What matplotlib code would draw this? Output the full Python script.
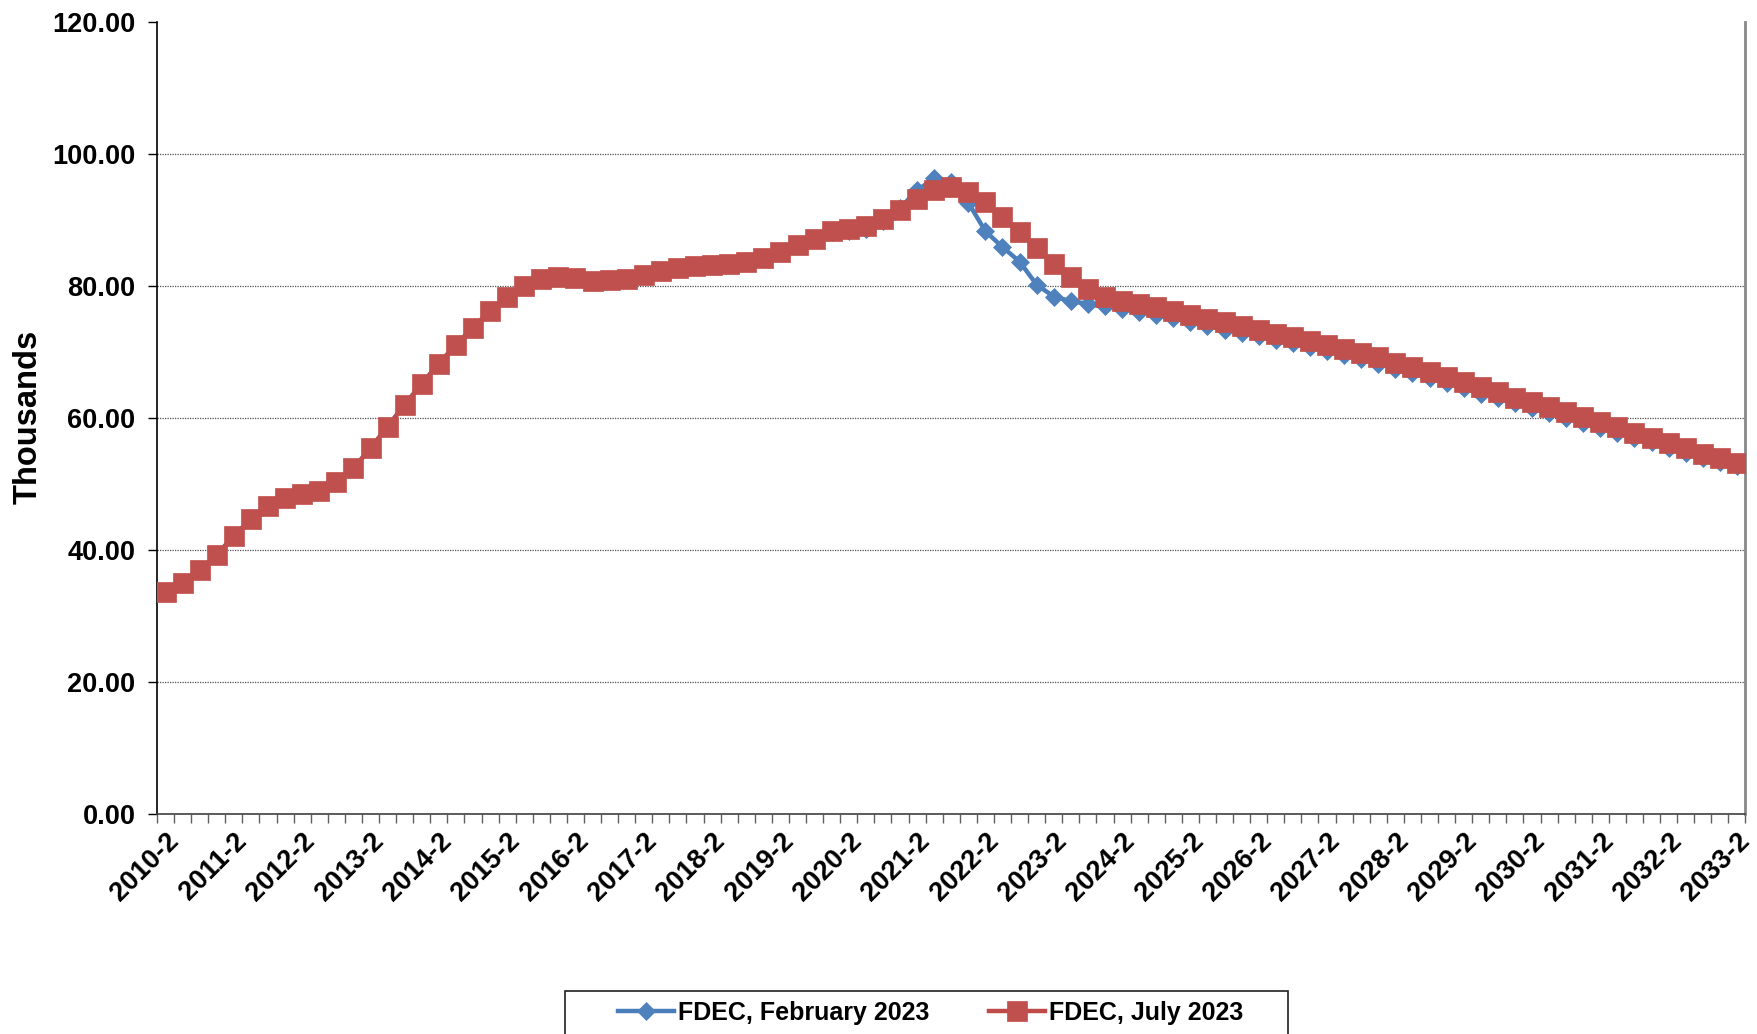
import numpy as np
import matplotlib
matplotlib.use("Agg")
import matplotlib.pyplot as plt
from matplotlib.patches import Rectangle

plt.rcParams['font.family'] = ['Liberation Sans', 'DejaVu Sans']
plt.rcParams['font.weight'] = 'bold'

# ---- data ----
quarters = []
for y in range(2010, 2034):
    for q in range(1, 5):
        if (y == 2010 and q < 2) or (y == 2033 and q > 2):
            continue
        quarters.append(f"{y}-{q}")

fdec_jul_2023 = [
    33.6, 35.05, 36.9, 39.3, 42.1, 44.7, 46.7, 47.9, 48.5, 49.0,
    50.3, 52.4, 55.4, 58.7, 62.0, 65.2, 68.2, 71.1, 73.7, 76.2,
    78.3, 80.0, 81.0, 81.4, 81.2, 80.8, 80.9, 81.0, 81.6, 82.2,
    82.7, 83.0, 83.2, 83.3, 83.7, 84.3, 85.2, 86.15, 87.15, 88.3,
    88.7, 89.1, 90.1, 91.5, 93.2, 94.6, 94.95, 94.3, 92.7, 90.5,
    88.2, 85.8, 83.4, 81.3, 79.55, 78.4, 77.7, 77.3, 76.8, 76.25,
    75.6, 75.0, 74.5, 73.9, 73.3, 72.8, 72.2, 71.7, 71.1, 70.5,
    69.8, 69.2, 68.4, 67.7, 66.9, 66.2, 65.45, 64.65, 63.9, 63.1,
    62.4, 61.6, 60.9, 60.2, 59.4, 58.6, 57.8, 57.0, 56.2, 55.4,
    54.6, 53.9, 53.2,
]

fdec_feb_2023 = [
    33.6, 35.05, 36.9, 39.3, 42.1, 44.7, 46.7, 47.9, 48.5, 49.0,
    50.3, 52.4, 55.4, 58.7, 62.0, 65.2, 68.2, 71.1, 73.7, 76.2,
    78.3, 80.0, 81.0, 81.4, 81.2, 80.8, 80.9, 81.0, 81.6, 82.2,
    82.7, 83.0, 83.2, 83.3, 83.7, 84.3, 85.2, 86.15, 87.15, 88.2,
    88.4, 88.7, 89.8, 91.8, 94.5, 96.3, 95.8, 92.6, 88.3, 85.9,
    83.7, 80.2, 78.4, 77.7, 77.3, 77.0, 76.5, 76.1, 75.6, 75.1,
    74.5, 73.9, 73.4, 72.9, 72.4, 71.8, 71.3, 70.8, 70.2, 69.5,
    68.9, 68.2, 67.5, 66.8, 66.1, 65.3, 64.55, 63.7, 63.0, 62.2,
    61.5, 60.7, 60.0, 59.3, 58.5, 57.8, 57.0, 56.3, 55.5, 54.7,
    54.0, 53.3, 52.7,
]

series_names = ["FDEC, February 2023", "FDEC, July 2023"]
y_ticks = [0, 20, 40, 60, 80, 100, 120]
y_label = "Thousands"

# ---- figure ----
W, H = 1758, 1034
fig = plt.figure(figsize=(W / 100, H / 100), dpi=100)
ax = fig.add_axes([157 / W, 1 - 814 / H, (1745.5 - 157) / W, (814 - 22) / H])

x = np.arange(len(quarters))

ax.plot(x, fdec_feb_2023, color='#4A7EBB', lw=3.2, marker='D', ms=9.2,
        mfc='#4F81BD', mec='#4F81BD', mew=0.5, label=series_names[0], zorder=3)
ax.plot(x, fdec_jul_2023, color='#BE4B48', lw=3.2, marker='s', ms=14,
        mfc='#C0504D', mec='#C0504D', mew=0.5, label=series_names[1], zorder=4)

ax.set_xlim(-0.5, len(quarters) - 0.5)
ax.set_ylim(0, 120)

# y axis
ax.set_yticks(y_ticks)
ax.set_yticklabels([f"{v:.2f}" for v in y_ticks])
ax.tick_params(axis='y', direction='out', length=6.5, width=1, color='black',
               labelsize=19.5, pad=9)
for v in y_ticks[1:-1]:
    ax.axhline(v, color='#505050', linestyle=(0, (1, 1)), linewidth=0.9,
               zorder=1)

# x axis
major = list(range(0, len(quarters), 4))
ax.set_xticks(major)
ax.set_xticklabels([quarters[i] for i in major], rotation=45, ha='right',
                   va='top', rotation_mode='anchor')
ax.set_xticks(np.arange(-0.5, len(quarters), 1), minor=True)
ax.tick_params(axis='x', which='major', length=0, labelsize=19.5, pad=10)
ax.tick_params(axis='x', which='minor', direction='out', length=6.5, width=1,
               color='#606060')

for lab in ax.get_xticklabels() + ax.get_yticklabels():
    lab.set_fontweight('bold')

ax.spines['top'].set_visible(False)
ax.spines['right'].set_color('#888888')
ax.spines['right'].set_linewidth(2)
ax.spines['left'].set_color('black')
ax.spines['left'].set_linewidth(1.2)
ax.spines['bottom'].set_color('#404040')
ax.spines['bottom'].set_linewidth(1.2)

fig.text(28 / W, 1 - 417 / H, y_label, rotation=90, ha='center', va='center',
         fontsize=23.5, fontweight='bold')

# legend
leg = fig.legend(loc='center', bbox_to_anchor=(930.5 / W, 1 - 1013 / H),
                 ncol=2, frameon=False, fontsize=18, handlelength=2.24,
                 handletextpad=0.16, columnspacing=2.36, borderpad=0,
                 borderaxespad=0, numpoints=1)
for t in leg.get_texts():
    t.set_fontweight('bold')
fig.patches.append(Rectangle((565 / W, -0.02), (1288 - 565) / W, 0.02 + 43 / H,
                             transform=fig.transFigure, fill=False,
                             edgecolor='#202020', linewidth=1.2))

fig.savefig("out.png", dpi=100)
